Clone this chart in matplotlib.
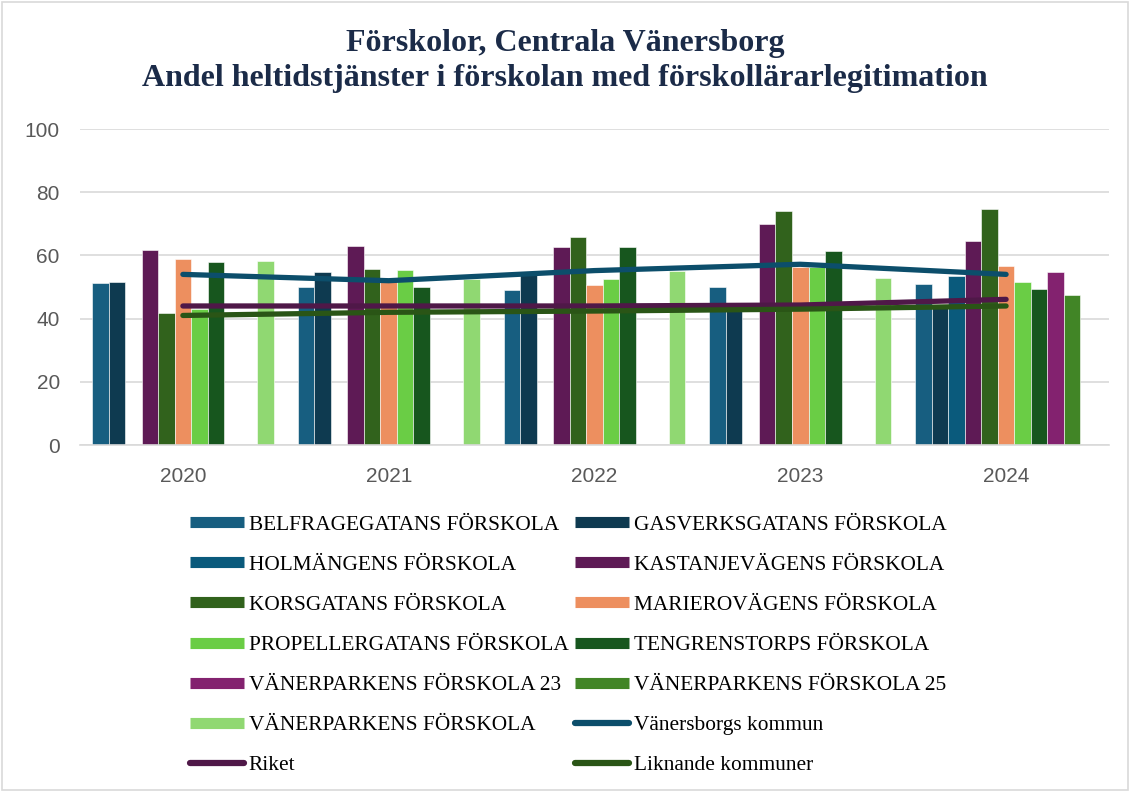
import numpy as np
import matplotlib
matplotlib.use('Agg')
import matplotlib.pyplot as plt
from matplotlib.lines import Line2D
from matplotlib.patches import Rectangle

# ─── Data ────────────────────────────────────────────────────────────────────
years = ['2020', '2021', '2022', '2023', '2024']

schools = [
    'BELFRAGEGATANS FÖRSKOLA', 'GASVERKSGATANS FÖRSKOLA', 'HOLMÄNGENS FÖRSKOLA',
    'KASTANJEVÄGENS FÖRSKOLA', 'KORSGATANS FÖRSKOLA', 'MARIEROVÄGENS FÖRSKOLA',
    'PROPELLERGATANS FÖRSKOLA', 'TENGRENSTORPS FÖRSKOLA', 'VÄNERPARKENS FÖRSKOLA 23',
    'VÄNERPARKENS FÖRSKOLA 25', 'VÄNERPARKENS FÖRSKOLA',
]
nan = np.nan
belfrage = [51.2, 50.1, 49.1, 50.1, 51.0]
gasverk = [51.5, 54.8, 54.0, 42.5, 44.0]
holmangen = [nan, nan, nan, nan, 53.5]
kastanje = [61.6, 63.0, 62.6, 69.9, 64.6]
korsgatan = [41.8, 55.7, 65.7, 74.0, 74.6]
marierovagen = [58.8, 52.0, 50.5, 56.2, 56.5]
propeller = [43.0, 55.3, 52.4, 56.2, 51.7]
tengrenstorp = [57.9, 49.9, 62.6, 61.5, 49.5]
vanerpark23 = [nan, nan, nan, nan, 54.7]
vanerpark25 = [nan, nan, nan, nan, 47.5]
vanerparken = [58.3, 52.5, 55.0, 52.7, nan]
bar_values = [belfrage, gasverk, holmangen, kastanje, korsgatan, marierovagen,
              propeller, tengrenstorp, vanerpark23, vanerpark25, vanerparken]

vanersborg = [54.0, 52.0, 55.2, 57.2, 54.0]
riket = [44.0, 44.0, 44.0, 44.3, 46.1]
liknande = [41.0, 42.0, 42.4, 43.0, 44.0]

bar_colors = ['#175e80', '#0e3a50', '#0a5a7c', '#5e1a55', '#31621c', '#ed8f5f',
              '#6acd45', '#17561e', '#83226f', '#418526', '#90d872']
line_names = ['Vänersborgs kommun', 'Riket', 'Liknande kommuner']
line_colors = ['#0c4e6b', '#4f1848', '#2a5516']

# ─── Figure ──────────────────────────────────────────────────────────────────
fig = plt.figure(figsize=(11.3, 7.92), dpi=100)
fig.patch.set_facecolor('white')
fig.patches.append(Rectangle((0.002, 0.002), 0.996, 0.995, transform=fig.transFigure,
                             fill=False, edgecolor='#d9d9d9', linewidth=1.2))

ax = fig.add_axes([0.0708, 0.4381, 0.9106, 0.399])

x = np.arange(len(years))
n = len(schools)
w = 1.0 / (n + 1.45)
for i, (vals, col) in enumerate(zip(bar_values, bar_colors)):
    ax.bar(x + (i - (n - 1) / 2) * w, vals, width=w, color=col,
           edgecolor='#ffffff', linewidth=0.4, zorder=2)

for vals, col in zip([vanersborg, riket, liknande], line_colors):
    ax.plot(x, vals, color=col, linewidth=3.8, solid_capstyle='round',
            solid_joinstyle='round', zorder=3)

ax.set_xlim(-0.5, len(years) - 0.5)
ax.set_ylim(0, 100)
ax.set_yticks(range(0, 101, 20))
ax.set_xticks(x)
ax.set_xticklabels(years)
ax.yaxis.grid(True, color='#d9d9d9', linewidth=1.2, zorder=0)
ax.set_axisbelow(True)
for s in ['top', 'right', 'left']:
    ax.spines[s].set_visible(False)
ax.spines['bottom'].set_color('#d9d9d9')
ax.spines['bottom'].set_linewidth(1.2)
ax.tick_params(axis='both', length=0, labelsize=15, labelcolor='#595959')
ax.tick_params(axis='y', pad=14.5)
ax.tick_params(axis='x', pad=16)
for lbl in ax.get_xticklabels() + ax.get_yticklabels():
    lbl.set_fontfamily('Liberation Sans')

fig.text(0.5, 0.923, 'Förskolor, Centrala Vänersborg\nAndel heltidstjänster i förskolan med förskollärarlegitimation',
         ha='center', va='center', fontsize=23, fontweight='bold', color='#1b2b48',
         fontfamily='Liberation Serif', linespacing=1.27)

# ─── Legend (two columns, column-major order) ────────────────────────────────
handles = [Line2D([], [], color=c, linewidth=8, solid_capstyle='butt') for c in bar_colors]
handles += [Line2D([], [], color=c, linewidth=4.5, solid_capstyle='round') for c in line_colors]
labels = schools + line_names
order = list(range(0, 14, 2)) + list(range(1, 14, 2))
fig.legend([handles[i] for i in order], [labels[i] for i in order],
           loc='upper left', bbox_to_anchor=(0.168, 0.35), ncol=2, frameon=False,
           prop={'family': 'Liberation Serif', 'size': 15.4},
           handlelength=2.55, handletextpad=0.2, columnspacing=0.3,
           labelspacing=0.94, borderaxespad=0, borderpad=0)

plt.savefig('out.png', dpi=100, facecolor='white')
plt.close()
